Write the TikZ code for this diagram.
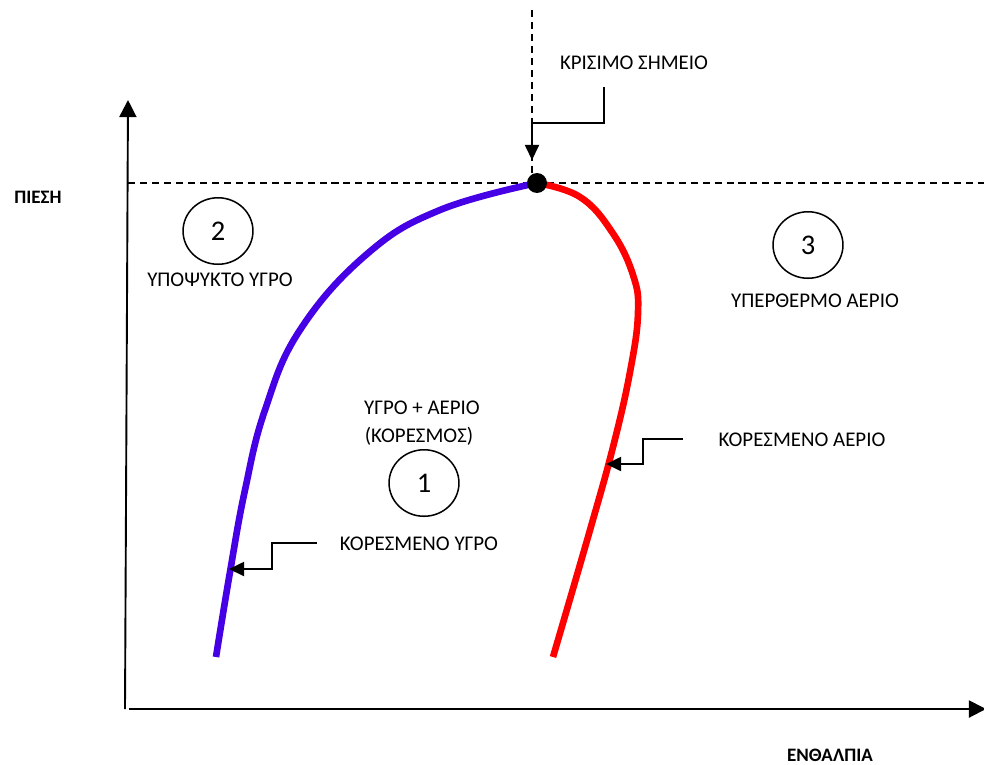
\documentclass[tikz,border=0pt]{standalone}
\usepackage{fontspec}
\setmainfont{Carlito}
\usetikzlibrary{arrows.meta,shapes.geometric}
\definecolor{liqblue}{RGB}{70,0,230}
\definecolor{gasred}{RGB}{255,0,0}
\tikzset{
	axis/.style={line width=1pt,-{Triangle[length=9pt,width=9pt]}},
	leader/.style={line width=0.8pt,-{Triangle[length=8pt,width=7.5pt]}},
	guide/.style={line width=0.7pt,dash pattern=on 3.7pt off 2.6pt},
	region/.style={draw,ellipse,line width=0.8pt,inner sep=0pt,minimum width=36.8pt,minimum height=35pt,font=\fontsize{15}{17}\selectfont},
	lbl/.style={font=\fontsize{11}{13}\selectfont,inner sep=0pt,anchor=base},
	axlbl/.style={font=\bfseries\fontsize{10}{12}\selectfont,inner sep=0pt,anchor=base},
	curve/.style={line width=3.5pt},
	critdot/.style={circle,fill=black,inner sep=0pt,minimum size=10.5pt}
}
\begin{document}
\begin{tikzpicture}[x=0.5263pt,y=-0.5263pt]
		\useasboundingbox (0,0) rectangle (984,764);
		\coordinate (origin) at (125,709);
		\coordinate (ytop) at (128,100);
		\coordinate (xstart) at (129,709);
		\coordinate (xend) at (986,709);
		\draw[axis] (origin) -- (ytop);
		\draw[axis] (xstart) -- (xend);
		\node[axlbl] (pressure) at (38,203) {ΠΙΕΣΗ};
		\node[axlbl] (enthalpy) at (830,761) {ΕΝΘΑΛΠΙΑ};
		\coordinate (hleft) at (128,183);
		\coordinate (hright) at (984,183);
		\coordinate (vtop) at (532,10);
		\coordinate (vbot) at (532,183);
		\draw[guide] (hleft) -- (hright);
		\draw[guide] (vtop) -- (vbot);
		\draw[curve,liqblue] plot[smooth,tension=0.7] coordinates {(216,657) (230,572) (245,490) (265,410) (300,330) (367,254) (440,210) (537,183)};
		\draw[curve,gasred] plot[smooth,tension=0.7] coordinates {(537,183) (580,197) (612,232) (633,275) (638,313) (630,372) (613,447) (590,530) (553,657)};
		\node[critdot] (cp) at (537,183) {};
		\node[lbl] (cplabel) at (634,69) {ΚΡΙΣΙΜΟ ΣΗΜΕΙΟ};
		\coordinate (cplead) at (604,87);
		\coordinate (cpbend) at (532,123);
		\coordinate (cptip) at (532,160);
		\draw[leader] (cplead) |- (cpbend) -- (cptip);
		\node[region] (r2) at (218,231) {2};
		\node[lbl] (subliq) at (220,286) {ΥΠΟΨΥΚΤΟ ΥΓΡΟ};
		\node[region] (r3) at (808,245) {3};
		\node[lbl] (supgas) at (815,307) {ΥΠΕΡΘΕΡΜΟ ΑΕΡΙΟ};
		\node[lbl] (mixa) at (422,414) {ΥΓΡΟ + ΑΕΡΙΟ};
		\node[lbl] (mixb) at (419,442) {(ΚΟΡΕΣΜΟΣ)};
		\node[region] (r1) at (424,483) {1};
		\node[lbl] (satliq) at (419,550) {ΚΟΡΕΣΜΕΝΟ ΥΓΡΟ};
		\node[lbl] (satgas) at (802,446) {ΚΟΡΕΣΜΕΝΟ ΑΕΡΙΟ};
		\coordinate (liqlead) at (317,543);
		\coordinate (liqbend) at (272,543);
		\coordinate (liqtip) at (229,569);
		\draw[leader] (liqlead) -- (liqbend) |- (liqtip);
		\coordinate (gaslead) at (683,439);
		\coordinate (gasbend) at (643,439);
		\coordinate (gastip) at (606,464);
		\draw[leader] (gaslead) -- (gasbend) |- (gastip);
\end{tikzpicture}
\end{document}
